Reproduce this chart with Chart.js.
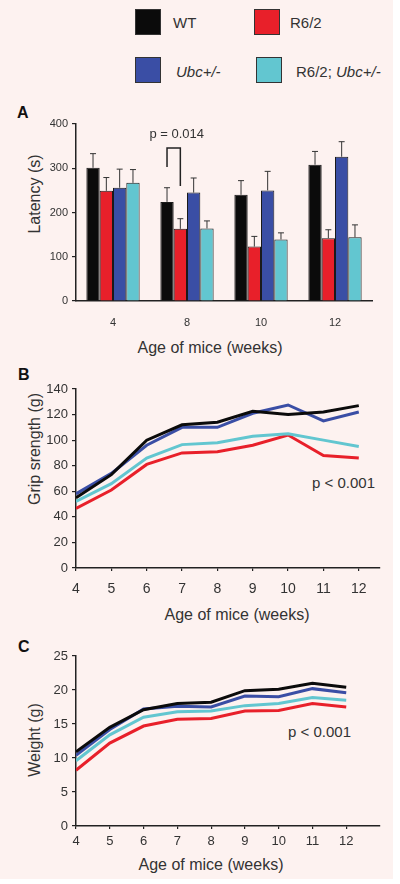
<!DOCTYPE html>
<html>
<head>
<meta charset="utf-8">
<script src="https://cdn.jsdelivr.net/npm/chart.js@4.4.1/dist/chart.umd.min.js"></script>
<style>
  html, body { margin: 0; padding: 0; background: #fff; }
  body { width: 400px; height: 884px; position: relative; overflow: hidden;
         font-family: "Liberation Sans", Arial, sans-serif; color: #333; }
  #bg { position: absolute; left: 0; top: 0; width: 393px; height: 879px; background: #fdf2f0; }
  canvas { position: absolute; left: 0; }
  .txt { position: absolute; white-space: nowrap; line-height: 1; font-weight: 400; }
  .sq { position: absolute; width: 24px; height: 24px; border: 1.5px solid #333; }
  .rot { transform: translate(-50%, -50%) rotate(-90deg); }
  .ctr { transform: translate(-50%, -50%); }
  .panel { font-weight: bold; font-size: 16px; color: #111; }
</style>
</head>
<body>
<div id="bg"></div>

<!-- legend -->
<div class="sq" style="left:135px;top:9px;background:#0b0b0b"></div>
<div class="txt" style="left:173px;top:15px;font-size:15px">WT</div>
<div class="sq" style="left:254px;top:9px;background:#e8202a"></div>
<div class="txt" style="left:290px;top:15px;font-size:15px">R6/2</div>
<div class="sq" style="left:135px;top:57px;background:#3a4ea5"></div>
<div class="txt" style="left:176px;top:64px;font-size:15px"><i>Ubc+/-</i></div>
<div class="sq" style="left:256px;top:57px;background:#62c6d0"></div>
<div class="txt" style="left:296px;top:64px;font-size:15px">R6/2; <i>Ubc+/-</i></div>

<!-- panel letters and axis titles -->
<div class="txt panel" style="left:17px;top:105px">A</div>
<div class="txt panel" style="left:18px;top:367px">B</div>
<div class="txt panel" style="left:18px;top:639px">C</div>

<div class="txt rot" style="left:35px;top:194px;font-size:16px">Latency (s)</div>
<div class="txt ctr" style="left:210px;top:348px;font-size:16px">Age of mice (weeks)</div>

<div class="txt rot" style="left:35px;top:449px;font-size:16px">Grip srength (g)</div>
<div class="txt ctr" style="left:237px;top:615px;font-size:16px">Age of mice (weeks)</div>
<div class="txt" style="left:312px;top:475px;font-size:15px">p &lt; 0.001</div>

<div class="txt rot" style="left:35px;top:740px;font-size:16px">Weight (g)</div>
<div class="txt ctr" style="left:211px;top:865px;font-size:16px">Age of mice (weeks)</div>
<div class="txt" style="left:288px;top:724px;font-size:15px">p &lt; 0.001</div>

<canvas id="chartA" width="400" height="240" style="top:100px"></canvas>
<canvas id="chartB" width="400" height="225" style="top:375px"></canvas>
<canvas id="chartC" width="400" height="215" style="top:640px"></canvas>

<script>
// Rotarod latency (A), grip strength (B), body weight (C)

var black = '#0b0b0b',
    red = '#e8202a',
    blue = '#3a4ea5',
    cyan = '#62c6d0',
    axisColor = '#222',
    tickColor = '#333';

// A - latency bars with upper SEM
var ageA = ['4', '8', '10', '12'];
var latWT = [301, 224, 240, 308];
var latR62 = [249, 163, 123, 142];
var latUbc = [256, 245, 250, 326];
var latR62Ubc = [267, 164, 139, 144];
var errWT = [32, 32, 32, 30];
var errR62 = [30, 23, 23, 19];
var errUbc = [42, 33, 43, 34];
var errR62Ubc = [30, 17, 15, 28];
var latTicks = [0, 100, 200, 300, 400];
// significance bracket at week 8 (WT vs R6/2), in latency units
var bracketTop = 346, bracketLeftEnd = 303, bracketRightEnd = 260;

// B, C - weekly means
var weeks = [4, 5, 6, 7, 8, 9, 10, 11, 12];
var gripWT = [55, 73, 100, 112, 114, 122.5, 120, 122, 127];
var gripR62 = [46.5, 61, 81, 90, 91, 96, 104, 88, 86];
var gripUbc = [58, 74, 96, 110, 110, 121, 127.5, 115, 122];
var gripR62Ubc = [52, 66, 86, 96.5, 98, 103, 105, 100, 95];
var wtWT = [10.9, 14.5, 17.1, 18.0, 18.2, 19.9, 20.1, 21.0, 20.4];
var wtR62 = [8.2, 12.2, 14.7, 15.7, 15.8, 16.9, 17.0, 18.0, 17.5];
var wtUbc = [10.4, 14.2, 17.2, 17.6, 17.5, 19.1, 19.0, 20.2, 19.6];
var wtR62Ubc = [9.6, 13.4, 16.0, 16.8, 16.9, 17.7, 18.0, 18.9, 18.5];

Chart.defaults.font.family = '"Liberation Sans", Arial, sans-serif';
Chart.defaults.color = tickColor;
Chart.defaults.animation = false;
Chart.defaults.plugins.legend.display = false;
Chart.defaults.plugins.tooltip.enabled = false;

function pts(ys) {
    return weeks.map(function (w, i) { return { x: w, y: ys[i] }; });
}

function yAxis(min, max, step, fontSize) {
    return {
        min: min, max: max,
        ticks: { stepSize: step, padding: 4, font: { size: fontSize }, color: tickColor },
        grid: { drawOnChartArea: false, drawTicks: true, tickLength: 4, color: axisColor, lineWidth: 1.2 },
        border: { color: axisColor, width: 1.5 },
        afterFit: function (s) { s.width = 76; }
    };
}

function weekAxis(max, height, pad, fontSize) {
    return {
        type: 'linear', min: 4, max: max,
        ticks: { padding: pad, font: { size: fontSize }, color: tickColor },
        afterBuildTicks: function (s) {
            s.ticks = weeks.map(function (w) { return { value: w }; });
        },
        grid: { drawOnChartArea: false, drawTicks: true, tickLength: 3, color: axisColor, lineWidth: 1.2 },
        border: { color: axisColor, width: 1.5 },
        afterFit: function (s) { s.height = height; }
    };
}

function line(label, ys, color) {
    return { label: label, data: pts(ys), borderColor: color, backgroundColor: color,
             borderWidth: 3, pointRadius: 0, tension: 0 };
}

function bars(label, vals, errs, color) {
    return { label: label, data: vals, err: errs, backgroundColor: color,
             borderColor: '#1a1a1a', borderWidth: 1 };
}

// upper error bars + p-value bracket for A
var errorBars = {
    id: 'errorBars',
    afterDatasetsDraw: function (chart) {
        var ctx = chart.ctx, y = chart.scales.y;
        ctx.save();
        ctx.strokeStyle = '#333';
        ctx.lineWidth = 1;
        chart.data.datasets.forEach(function (ds, i) {
            chart.getDatasetMeta(i).data.forEach(function (bar, j) {
                var top = y.getPixelForValue(ds.data[j]);
                var end = y.getPixelForValue(ds.data[j] + ds.err[j]);
                ctx.beginPath();
                ctx.moveTo(bar.x, top);
                ctx.lineTo(bar.x, end);
                ctx.moveTo(bar.x - 3, end);
                ctx.lineTo(bar.x + 3, end);
                ctx.stroke();
            });
        });
        var xl = chart.getDatasetMeta(0).data[1].x,
            xr = chart.getDatasetMeta(1).data[1].x,
            yt = y.getPixelForValue(bracketTop);
        ctx.strokeStyle = '#222';
        ctx.lineWidth = 1.5;
        ctx.beginPath();
        ctx.moveTo(xl, y.getPixelForValue(bracketLeftEnd));
        ctx.lineTo(xl, yt);
        ctx.lineTo(xr, yt);
        ctx.lineTo(xr, y.getPixelForValue(bracketRightEnd));
        ctx.stroke();
        ctx.fillStyle = '#333';
        ctx.font = '13px "Liberation Sans", Arial, sans-serif';
        ctx.textAlign = 'center';
        ctx.textBaseline = 'middle';
        ctx.fillText('p = 0.014', (xl + xr) / 2 + 3, yt - 13);
        ctx.restore();
    }
};

new Chart(document.getElementById('chartA'), {
    type: 'bar',
    data: {
        labels: ageA,
        datasets: [
            bars('WT', latWT, errWT, black),
            bars('R6/2', latR62, errR62, red),
            bars('Ubc+/-', latUbc, errUbc, blue),
            bars('R6/2; Ubc+/-', latR62Ubc, errR62Ubc, cyan)
        ]
    },
    options: {
        responsive: false,
        layout: { padding: { top: 24, right: 28, left: 0, bottom: 0 } },
        datasets: { bar: { categoryPercentage: 0.72, barPercentage: 1.0 } },
        scales: {
            x: {
                ticks: { padding: 15, font: { size: 11 }, color: tickColor },
                grid: { display: false, drawTicks: false },
                border: { color: axisColor, width: 1.5 },
                afterFit: function (s) { s.height = 39; }
            },
            y: Object.assign(yAxis(0, 400, 100, 11), {
                afterBuildTicks: function (s) { s.ticks = latTicks.map(function (v) { return { value: v }; }); }
            })
        }
    },
    plugins: [errorBars]
});

new Chart(document.getElementById('chartB'), {
    type: 'line',
    data: {
        datasets: [
            line('WT', gripWT, black),
            line('Ubc+/-', gripUbc, blue),
            line('R6/2; Ubc+/-', gripR62Ubc, cyan),
            line('R6/2', gripR62, red)
        ]
    },
    options: {
        responsive: false,
        layout: { padding: { top: 14, right: 20, left: 0, bottom: 0 } },
        scales: {
            x: weekAxis(12.6, 32, 10, 14),
            y: yAxis(0, 140, 20, 13)
        }
    }
});

new Chart(document.getElementById('chartC'), {
    type: 'line',
    data: {
        datasets: [
            line('WT', wtWT, black),
            line('Ubc+/-', wtUbc, blue),
            line('R6/2; Ubc+/-', wtR62Ubc, cyan),
            line('R6/2', wtR62, red)
        ]
    },
    options: {
        responsive: false,
        layout: { padding: { top: 16, right: 20, left: 0, bottom: 0 } },
        scales: {
            x: weekAxis(13, 29, 5, 13),
            y: yAxis(0, 25, 5, 13)
        }
    }
});
</script>
</body>
</html>
